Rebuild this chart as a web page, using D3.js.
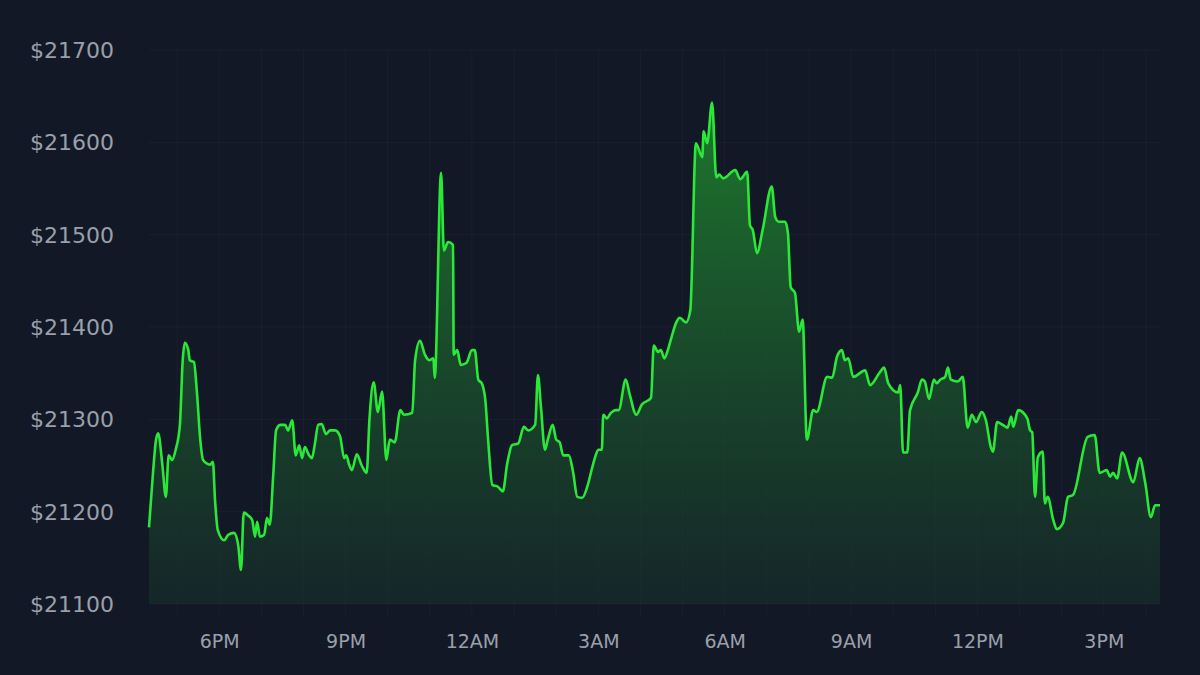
<!DOCTYPE html>
<html><head><meta charset="utf-8">
<script src="https://cdn.jsdelivr.net/npm/d3@7"></script>
<style>body{margin:0;background:#131827;}svg{display:block;font-family:"DejaVu Sans",sans-serif;}</style>
</head><body><svg id="c" width="1200" height="675"></svg>
<script>
// minutes since 16:20 (day 1) and price
const minutes=[0,6,10,13,19,24,28,33,38,44,48,51,56,58,64,68,73,77,87,91,94,98,107,113,121,127,131,135,141,147,151,154,158,164,168,172,177,181,187,194,198,204,209,214,218,222,228,232,236,241,246,252,258,265,272,278,281,285,289,296,303,310,314,320,326,332,338,343,350,358,363,375,379,386,393,399,405,407,416,420,426,433,434,439,444,452,460,464,469,474,479,483,489,497,504,510,517,526,534,540,550,554,558,564,568,575,580,585,590,598,604,610,617,625,631,635,640,645,647,652,658,665,669,679,685,694,702,715,719,725,729,734,739,745,751,756,765,771,779,788,790,795,802,808,812,818,835,842,852,856,860,866,874,887,892,897,906,910,914,920,926,931,937,946,951,966,973,980,987,991,996,1003,1020,1027,1041,1047,1053,1067,1070,1074,1080,1084,1095,1101,1105,1111,1118,1122,1127,1134,1138,1142,1152,1159,1166,1172,1178,1186,1192,1199,1202,1208,1216,1223,1228,1231,1238,1251,1255,1258,1262,1266,1273,1276,1280,1288,1293,1302,1309,1316,1337,1347,1354,1364,1369,1373,1379,1386,1402,1411,1419,1427,1433,1440];
const prices=[21183,21245,21278,21285,21251,21216,21261,21256,21267,21294,21364,21383,21375,21364,21362,21332,21278,21256,21251,21254,21213,21180,21169,21175,21177,21164,21137,21199,21196,21191,21173,21189,21173,21175,21193,21186,21240,21288,21294,21294,21288,21299,21261,21272,21258,21270,21261,21258,21272,21294,21295,21284,21288,21288,21282,21258,21261,21251,21245,21262,21250,21242,21300,21340,21308,21330,21256,21278,21275,21310,21305,21307,21364,21385,21370,21364,21366,21345,21567,21483,21492,21489,21370,21375,21359,21361,21375,21375,21343,21339,21321,21278,21229,21227,21222,21251,21272,21274,21292,21288,21294,21348,21316,21267,21278,21294,21278,21275,21261,21261,21243,21216,21215,21229,21247,21258,21267,21267,21305,21301,21307,21310,21310,21343,21326,21305,21316,21323,21380,21373,21375,21366,21375,21391,21405,21410,21405,21418,21599,21584,21612,21599,21643,21562,21565,21561,21570,21560,21568,21510,21505,21480,21505,21552,21519,21514,21514,21502,21443,21437,21395,21408,21278,21310,21308,21346,21345,21368,21375,21364,21366,21346,21353,21337,21351,21356,21339,21329,21337,21264,21264,21310,21329,21343,21341,21322,21343,21339,21343,21346,21356,21343,21341,21346,21291,21305,21297,21308,21299,21270,21265,21297,21294,21291,21303,21292,21310,21301,21288,21286,21216,21259,21265,21209,21216,21191,21181,21188,21216,21218,21281,21283,21242,21245,21238,21242,21236,21264,21232,21258,21231,21194,21207,21207];
const yTicks=[21100,21200,21300,21400,21500,21600,21700];

const start=new Date(2023,0,1,16,20);
const data=minutes.map((m,i)=>({t:new Date(start.getTime()+m*60000),v:prices[i]}));
const svg=d3.select("#c");
svg.append("rect").attr("width",1200).attr("height",675).attr("fill","#131827");
const L=149,R=1160,T=50,B=604;
const x=d3.scaleTime().domain([start,new Date(start.getTime()+1440*60000)]).range([L,R]);
const y=d3.scaleLinear().domain([21100,21700]).range([B,T]);

const grad=svg.append("defs").append("linearGradient").attr("id","g").attr("x1",0).attr("y1",0).attr("x2",0).attr("y2",1);
grad.append("stop").attr("offset","0%").attr("stop-color","#1f8a2e").attr("stop-opacity",0.85);
grad.append("stop").attr("offset","100%").attr("stop-color","#17302a").attr("stop-opacity",0.6);

const g=svg.append("g");
g.selectAll("line.v").data(x.ticks(d3.timeHour.every(1))).join("line")
 .attr("x1",d=>x(d)).attr("x2",d=>x(d)).attr("y1",T).attr("y2",B+12)
 .attr("stroke","#ffffff").attr("stroke-opacity",0.03);
g.selectAll("line.h").data(yTicks).join("line")
 .attr("x1",L).attr("x2",R).attr("y1",d=>y(d)).attr("y2",d=>y(d))
 .attr("stroke","#ffffff").attr("stroke-opacity",0.035);

const curve=d3.curveMonotoneX;
svg.append("path").datum(data).attr("fill","url(#g)")
 .attr("d",d3.area().x(d=>x(d.t)).y0(B).y1(d=>y(d.v)).curve(curve));
svg.append("path").datum(data).attr("fill","none").attr("stroke","#2ae838").attr("stroke-width",2.6)
 .attr("stroke-linejoin","round").attr("d",d3.line().x(d=>x(d.t)).y(d=>y(d.v)).curve(curve));

svg.append("g").selectAll("text").data(yTicks).join("text")
 .attr("x",30).attr("y",d=>y(d)+8).attr("fill","#9aa0aa").attr("font-size",22)
 .text(d=>"$"+d);
const xa=svg.append("g").attr("transform",`translate(0,${B})`)
 .call(d3.axisBottom(x).ticks(d3.timeHour.every(3)).tickFormat(d3.timeFormat("%-I%p")).tickSize(0).tickPadding(31));
xa.select(".domain").remove();
xa.selectAll("text").attr("fill","#9aa0aa").attr("font-size",19).attr("font-family","DejaVu Sans");
</script></body></html>
